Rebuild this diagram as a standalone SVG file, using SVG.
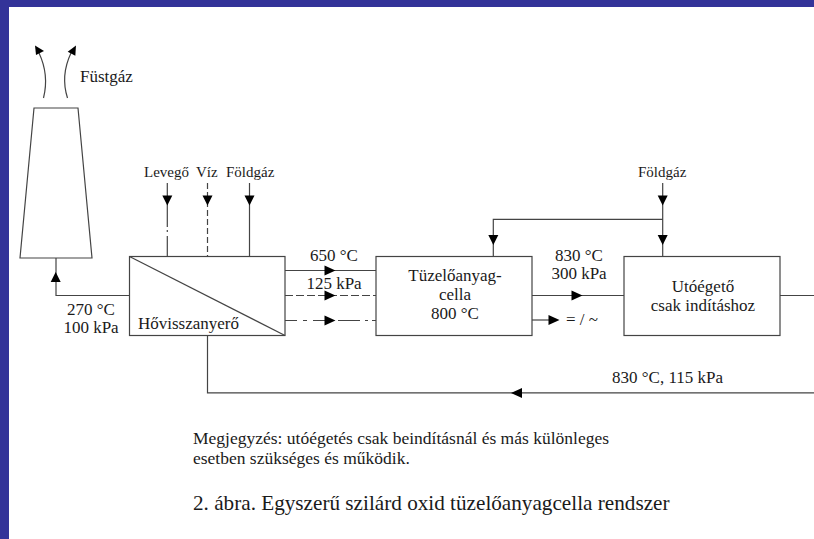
<svg xmlns="http://www.w3.org/2000/svg" width="814" height="539" viewBox="0 0 814 539">
<defs>
<style>
text{font-family:"Liberation Serif","Times New Roman",serif;fill:#1a1a1a;font-size:17px}
.s{font-size:15px}
.n{font-size:17.5px}
.m{text-anchor:middle}
.b{fill:#fff;stroke:#444;stroke-width:1.2}
.l{fill:none;stroke:#444;stroke-width:1.2}
.h{fill:#000;stroke:none}
</style>
<polygon id="ad" class="h" points="-5,-10 5,-10 0,0"/>
<polygon id="ar" class="h" points="-11,-5 -11,5 0,0"/>
</defs>
<rect width="814" height="539" fill="#fff"/>
<rect width="814" height="7" fill="#333399"/>
<rect width="9" height="539" fill="#333399"/>

<g id="chimney"><polygon class="b" points="34,108 78,108 92,258 20,258"/></g>
<g id="hovisszanyero">
<rect class="b" x="129.5" y="256.5" width="155.5" height="79"/>
<line class="l" x1="129.5" y1="256.5" x2="285" y2="335.5"/>
<text x="138" y="328.5">Hővisszanyerő</text>
</g>
<g id="tuzeloanyagcella">
<rect class="b" x="376" y="256.5" width="156" height="79"/>
<text class="m" x="455" y="281">Tüzelőanyag-</text>
<text class="m" x="455" y="299.5">cella</text>
<text class="m" x="455" y="318.5">800 °C</text>
</g>
<g id="utoegeto">
<rect class="b" x="624" y="256.5" width="156" height="79"/>
<text class="m" x="703" y="291.5">Utóégető</text>
<text class="m" x="703" y="310.5">csak indításhoz</text>
</g>

<g id="connectors">
<path class="l" d="M43.5,98C47,84 47,70 39,53"/>
<polygon class="h" points="35,45.5 36,55 44,51"/>
<path class="l" d="M67.5,98C63,84 63,70 71,53"/>
<polygon class="h" points="76,45.5 67.7,51.7 75.3,55.7"/>
<path class="l" d="M129.5,295.5H56V258"/>
<use href="#ad" transform="translate(55.7,272) rotate(180)"/>
<path class="l" d="M167.3,183V227M167.3,230V232M167.3,236V256.5"/>
<use href="#ad" x="167.3" y="205.5"/>
<path class="l" d="M207.5,183V256.5" stroke-dasharray="6 3"/>
<use href="#ad" x="207.5" y="205.5"/>
<path class="l" d="M249.5,183V256.5"/>
<use href="#ad" x="249.5" y="205.5"/>
<path class="l" d="M285,270.5H376"/>
<use href="#ar" x="335.5" y="270.5"/>
<path class="l" d="M285,295.5H376" stroke-dasharray="8 3"/>
<use href="#ar" x="335.5" y="295.5"/>
<path class="l" d="M285,320.5H297M303,320.5H307M313,320.5H325M338,320.5H360M365,320.5H368M372,320.5H376"/>
<use href="#ar" x="335.5" y="320.5"/>
<path class="l" d="M532,295.5H624"/>
<use href="#ar" x="582.5" y="295.5"/>
<path class="l" d="M532,320H550"/>
<use href="#ar" x="559.5" y="320"/>
<path class="l" d="M780,295.5H814"/>
<path class="l" d="M814,392.8H207.5V335.5" stroke-width="1.5"/>
<polygon class="h" points="511,393 522,388 522,398"/>
<path class="l" d="M662.7,183V256.5M662.7,219.3H493.3V256.5"/>
<use href="#ad" x="662.7" y="205.5"/>
<use href="#ad" x="662.7" y="245"/>
<use href="#ad" x="493.3" y="245"/>
</g>

<g id="labels">
<text x="80" y="82">Füstgáz</text>
<text class="s" x="144" y="177">Levegő</text>
<text class="s" x="196" y="177">Víz</text>
<text class="s" x="226" y="177">Földgáz</text>
<text class="s" x="638" y="177">Földgáz</text>
<text class="m" x="91" y="315">270 °C</text>
<text class="m" x="91" y="333">100 kPa</text>
<text class="m" x="334" y="261">650 °C</text>
<text class="m" x="334" y="289">125 kPa</text>
<text class="m" x="579" y="261">830 °C</text>
<text class="m" x="579" y="279">300 kPa</text>
<text x="566" y="325">= / ~</text>
<text x="612" y="383">830 °C, 115 kPa</text>
<text class="n" x="193" y="444">Megjegyzés: utóégetés csak beindításnál és más különleges</text>
<text class="n" x="193" y="464">esetben szükséges és működik.</text>
<text x="193" y="510" style="font-size:21.2px">2. ábra. Egyszerű szilárd oxid tüzelőanyagcella rendszer</text>
</g>
</svg>
